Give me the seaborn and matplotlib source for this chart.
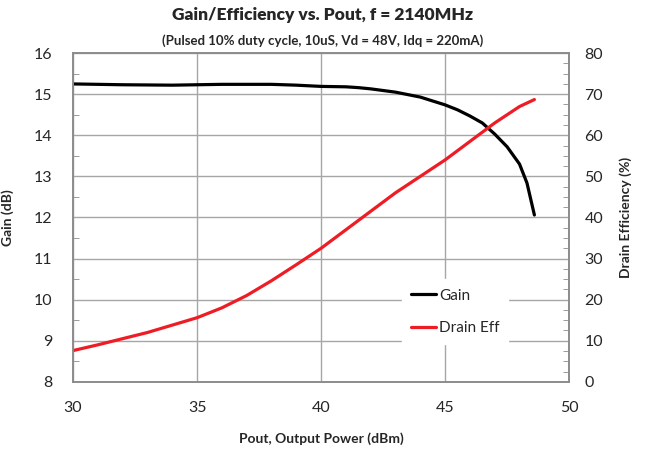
import pandas as pd
import seaborn as sns
from matplotlib import pyplot as plt
from matplotlib.ticker import MultipleLocator

# values
pout_gain = [30, 32, 34, 36, 38, 39, 40, 41, 41.5, 42, 43, 44, 45, 45.5, 46, 46.5, 47, 47.5, 48, 48.3, 48.6]
gain = [15.25, 15.23, 15.22, 15.24, 15.24, 15.22, 15.19, 15.18, 15.16, 15.13, 15.05, 14.93,
        14.74, 14.62, 14.47, 14.3, 14.03, 13.72, 13.3, 12.84, 12.06]
pout_eff = [30, 31, 32, 33, 34, 35, 36, 37, 38, 39, 40, 41, 42, 43, 44, 45, 46, 47, 47.5, 48, 48.6]
drain_eff = [7.6, 9, 10.5, 12, 13.8, 15.6, 18, 21, 24.6, 28.5, 32.5, 37, 41.5, 46, 50, 54,
             58.5, 63, 65, 67, 68.7]

sns.set_style("white")
plt.rcParams['font.family'] = ['Lato', 'DejaVu Sans']

df_g = pd.DataFrame({"Pout": pout_gain, "Gain": gain})
df_e = pd.DataFrame({"Pout": pout_eff, "Eff": drain_eff})

fig = plt.figure(figsize=(6.46, 4.54), dpi=100)
ax = fig.add_axes([0.113, 0.159, 0.768, 0.724])
ax2 = ax.twinx()

sns.lineplot(data=df_g, x="Pout", y="Gain", ax=ax, color="black", linewidth=2.3, label="Gain", legend=False)
sns.lineplot(data=df_e, x="Pout", y="Eff", ax=ax2, color="#ee1c25", linewidth=2.3, label="Drain Eff", legend=False)

ax.set_xlim(30, 50)
ax.set_ylim(8, 16)
ax2.set_ylim(0, 80)
ax.xaxis.set_major_locator(MultipleLocator(5))
ax.xaxis.set_minor_locator(MultipleLocator(1))
ax.yaxis.set_major_locator(MultipleLocator(1))
ax.yaxis.set_minor_locator(MultipleLocator(0.5))
ax2.yaxis.set_major_locator(MultipleLocator(10))
ax2.yaxis.set_minor_locator(MultipleLocator(2.5))

ax.grid(True, which="major", color="#a6a6a6", linewidth=1)
ax.set_axisbelow(True)
for a in (ax, ax2):
    for s in a.spines.values():
        s.set_color("#8c8c8c")
        s.set_linewidth(1.2)
ax.tick_params(which="both", direction="in", color="#8c8c8c", labelsize=11.5, pad=14)
ax.tick_params(which="major", length=0)
ax.tick_params(which="minor", length=4)
ax.tick_params(axis="y", pad=15)
ax2.tick_params(which="both", direction="in", color="#8c8c8c", labelsize=11.5, pad=11)
ax2.tick_params(which="major", length=0)
ax2.tick_params(which="minor", length=4)

ax.set_xlabel("Pout, Output Power (dBm)", fontsize=10, fontweight="bold", labelpad=12)
ax.set_ylabel("Gain (dB)", fontsize=10, fontweight="bold", labelpad=14)
ax2.set_ylabel("Drain Efficiency (%)", fontsize=10, fontweight="bold", labelpad=12)

fig.text(0.5, 0.968, "Gain/Efficiency vs. Pout, f = 2140MHz", ha="center", va="center",
         fontsize=12.5, fontweight="heavy")
fig.text(0.5, 0.91, "(Pulsed 10% duty cycle, 10uS, Vd = 48V, Idq = 220mA)", ha="center", va="center",
         fontsize=9.5, fontweight="bold")

h1, l1 = ax.get_legend_handles_labels()
h2, l2 = ax2.get_legend_handles_labels()
leg = ax2.legend(h1 + h2, l1 + l2, loc="center left", bbox_to_anchor=(0.648, 0.213),
                 frameon=True, fontsize=11, handlelength=1.6, handletextpad=0.2,
                 labelspacing=1.2, borderpad=0.6, fancybox=False)
leg.get_frame().set_edgecolor("white")
leg.get_frame().set_facecolor("white")
leg.get_frame().set_alpha(1)

fig.savefig("out.png", dpi=100)
